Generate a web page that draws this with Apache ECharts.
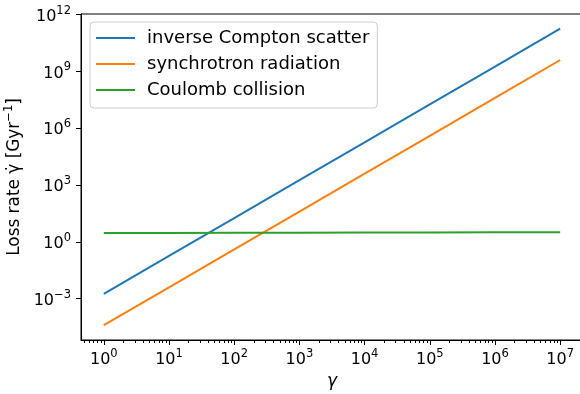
<!DOCTYPE html>
<html>
<head>
<meta charset="utf-8">
<script src="https://cdn.jsdelivr.net/npm/echarts@6/dist/echarts.min.js"></script>
<style>
  html, body { margin: 0; padding: 0; background: #fff; }
  #chart { width: 580px; height: 394px; }
</style>
</head>
<body>
<div id="chart"></div>
<script>
// Electron Lorentz factor samples
const gamma = [1, 10, 100, 1e3, 1e4, 1e5, 1e6, 1e7];
// Energy loss rates in Gyr^-1
const inverseCompton = [1.8e-3, 1.8e-1, 1.8e1, 1.8e3, 1.8e5, 1.8e7, 1.8e9, 1.8e11];
const synchrotron = [4e-5, 4e-3, 4e-1, 4e1, 4e3, 4e5, 4e7, 4e9];
const coulomb = [2.9, 2.95, 3.0, 3.05, 3.1, 3.15, 3.2, 3.24];

const seriesNames = ['inverse Compton scatter', 'synchrotron radiation', 'Coulomb collision'];
const colors = ['#1f77b4', '#ff7f0e', '#2ca02c'];

// Labelled tick positions
const xMajorTicks = [1, 10, 100, 1e3, 1e4, 1e5, 1e6, 1e7];
const yMajorTicks = [1e-3, 1, 1e3, 1e6, 1e9, 1e12];

// Axis extents (log decades)
const xMin = Math.pow(10, -0.35), xMax = Math.pow(10, 7.35);
const yMin = Math.pow(10, -5.18), yMax = Math.pow(10, 12.03);

// Minor ticks at 2..9 x 10^k inside the x range
const xMinorTicks = [];
for (let k = -1; k <= 7; k++) {
  for (let m = 2; m <= 9; m++) {
    const v = m * Math.pow(10, k);
    if (v >= xMin && v <= xMax) xMinorTicks.push(v);
  }
}

const FONT = 'DejaVu Sans';
const supRich = {
  b: { fontSize: 16, fontFamily: FONT, color: '#000', lineHeight: 20, verticalAlign: 'bottom' },
  s: { fontSize: 11.5, fontFamily: FONT, color: '#000', lineHeight: 12, verticalAlign: 'top' }
};
function powLabel(v) {
  const e = Math.round(Math.log10(v));
  return '{b|10}{s|' + String(e).replace('-', '\u2212') + '}';
}

function pairs(ys) { return gamma.map((g, i) => [g, ys[i]]); }

const chart = echarts.init(document.getElementById('chart'), null, { renderer: 'canvas' });
chart.setOption({
  animation: false,
  backgroundColor: '#fff',
  grid: {
    left: 81, top: 14, right: -3, bottom: 54,
    outerBoundsMode: 'none', containLabel: false,
    show: true, borderColor: '#000', borderWidth: 1, backgroundColor: 'transparent'
  },
  legend: {
    orient: 'vertical', left: 90, top: 22,
    data: seriesNames,
    icon: 'rect', itemWidth: 39, itemHeight: 2, itemGap: 6,
    padding: [6, 8, 8, 6],
    borderColor: '#cccccc', borderWidth: 1, borderRadius: 4,
    backgroundColor: 'rgba(255,255,255,0.8)',
    textStyle: { fontSize: 18, fontFamily: FONT, color: '#000', lineHeight: 20, padding: [0, 0, 0, 7] },
    selectedMode: false
  },
  xAxis: [{
    type: 'log', min: xMin, max: xMax, position: 'bottom',
    axisLine: { show: true, lineStyle: { color: '#000', width: 1 } },
    axisTick: { show: true, length: 5, inside: false, lineStyle: { color: '#000' }, customValues: xMajorTicks },
    axisLabel: { customValues: xMajorTicks, margin: 8, formatter: powLabel, rich: supRich },
    splitLine: { show: false },
    name: 'γ', nameLocation: 'middle', nameGap: 29,
    nameTextStyle: { fontSize: 17, fontFamily: FONT, fontStyle: 'italic', color: '#000' }
  }, {
    type: 'log', min: xMin, max: xMax, position: 'bottom',
    axisLine: { show: false },
    axisTick: { show: true, length: 3, lineStyle: { color: '#000' }, customValues: xMinorTicks },
    axisLabel: { show: false },
    splitLine: { show: false }
  }],
  yAxis: {
    type: 'log', min: yMin, max: yMax,
    axisLine: { show: true, lineStyle: { color: '#000', width: 1 } },
    axisTick: { show: true, length: 5, lineStyle: { color: '#000' }, customValues: yMajorTicks },
    axisLabel: { customValues: yMajorTicks, margin: 10, formatter: powLabel, rich: supRich },
    splitLine: { show: false },
    name: '{n|Loss rate γ̇ [Gyr}{s|\u22121}{n|]}', nameLocation: 'middle', nameGap: 58, nameRotate: 90,
    nameTextStyle: {
      rich: {
        n: { fontSize: 16.9, fontFamily: FONT, color: '#000', lineHeight: 20, verticalAlign: 'bottom' },
        s: { fontSize: 11.5, fontFamily: FONT, color: '#000', lineHeight: 12, verticalAlign: 'top' }
      }
    }
  },
  series: [inverseCompton, synchrotron, coulomb].map((ys, i) => ({
    name: seriesNames[i], type: 'line', data: pairs(ys),
    xAxisIndex: 0, yAxisIndex: 0,
    showSymbol: false, symbol: 'none',
    lineStyle: { color: colors[i], width: 2 }, itemStyle: { color: colors[i] },
    emphasis: { disabled: true }, silent: true
  }))
});
</script>
</body>
</html>
